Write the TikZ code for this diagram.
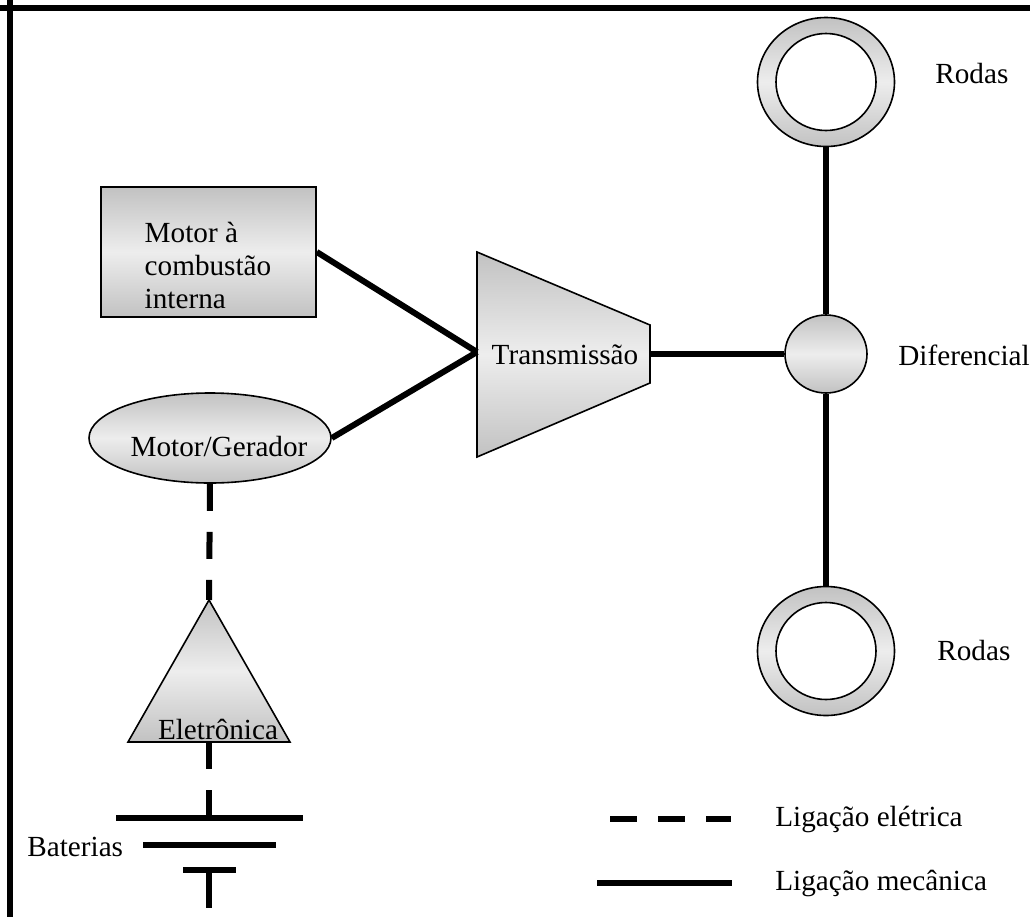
\documentclass[tikz,border=0pt]{standalone}
\usepackage{fontspec}
\setmainfont{Liberation Serif}
\usetikzlibrary{shapes.geometric}

\begin{document}
\begin{tikzpicture}[x=0.5pt, y=-0.5pt,
  box/.style = {draw, line width=.8pt, top color=black!24, bottom color=black!24, middle color=black!7},
  mec/.style = {line width=3pt},
  ele/.style = {line width=3pt, dash pattern=on 13.5pt off 10.5pt},
  txt/.style = {font=\fontsize{14.6}{16.5}\selectfont, inner sep=0pt}]
\useasboundingbox (0,0) rectangle (1030,917);
\draw[line width=3pt] (0,8) -- (1030,8);
\draw[line width=3pt] (10,0) -- (10,917);

\node[box, minimum width=107.5pt, minimum height=65pt] (ice) at (208.5,252) {};
\node[txt, align=left] (iceT) at (208,265) {Motor à\\combustão\\interna};
\node[box, ellipse, inner sep=0pt, minimum width=121pt, minimum height=45pt] (mg) at (210,438) {};
\node[txt] (mgT) at (219,447) {Motor/Gerador};

\coordinate (trIn) at (477,352);
\coordinate (trOut) at (650,354);
\draw[box] (477,252) -- (650,325) -- (650,383) -- (477,457) -- cycle;
\node[txt] (tr) at (565,355) {Transmissão};

\node[box, ellipse, inner sep=0pt, minimum width=41pt, minimum height=39pt] (dif) at (826,354) {};
\node[txt, anchor=west] (difT) at (898,355) {Diferencial};

\node[box, ellipse, inner sep=0pt, minimum width=68.5pt, minimum height=64.5pt] (rodaA) at (826,82) {};
\node[draw, line width=.8pt, fill=white, ellipse, inner sep=0pt, minimum width=50pt, minimum height=48.5pt] (aroA) at (826,82) {};
\node[txt, anchor=west] (rodasA) at (935,74) {Rodas};
\node[box, ellipse, inner sep=0pt, minimum width=68.5pt, minimum height=64.5pt] (rodaB) at (826,651) {};
\node[draw, line width=.8pt, fill=white, ellipse, inner sep=0pt, minimum width=50pt, minimum height=48.5pt] (aroB) at (826,651) {};
\node[txt, anchor=west] (rodasB) at (937,651) {Rodas};

\draw[mec] (ice.east) -- (trIn);
\draw[mec] (mg.east) -- (trIn);
\draw[mec] (trOut) -- (dif);
\draw[mec] (rodaA) -- (dif);
\draw[mec] (dif) -- (rodaB);

\coordinate (eleTop) at (209,600);
\coordinate (eleBot) at (209,742);
\draw[box] (eleTop) -- (290,742) -- (128,742) -- cycle;
\node[txt] (ele) at (218,729) {Eletrônica};

\coordinate (bat) at (209,818);
\draw[ele] (mg.south) -- (eleTop);
\draw[ele] (eleBot) -- (bat);
\draw[mec] (116,818) -- (303,818);
\draw[mec] (143,845) -- (276,845);
\draw[mec] (183,870) -- (236,870);
\draw[mec] (209,870) -- (209,908);
\node[txt, anchor=west] (batT) at (27,847) {Baterias};

\coordinate (eA) at (610,819);
\coordinate (eB) at (731,819);
\coordinate (mA) at (597,883);
\coordinate (mB) at (732,883);
\draw[ele] (eA) -- (eB);
\draw[mec] (mA) -- (mB);
\node[txt, anchor=west] (legE) at (775,819) {Ligação elétrica};
\node[txt, anchor=west] (legM) at (775,883) {Ligação mecânica};
\end{tikzpicture}
\end{document}
